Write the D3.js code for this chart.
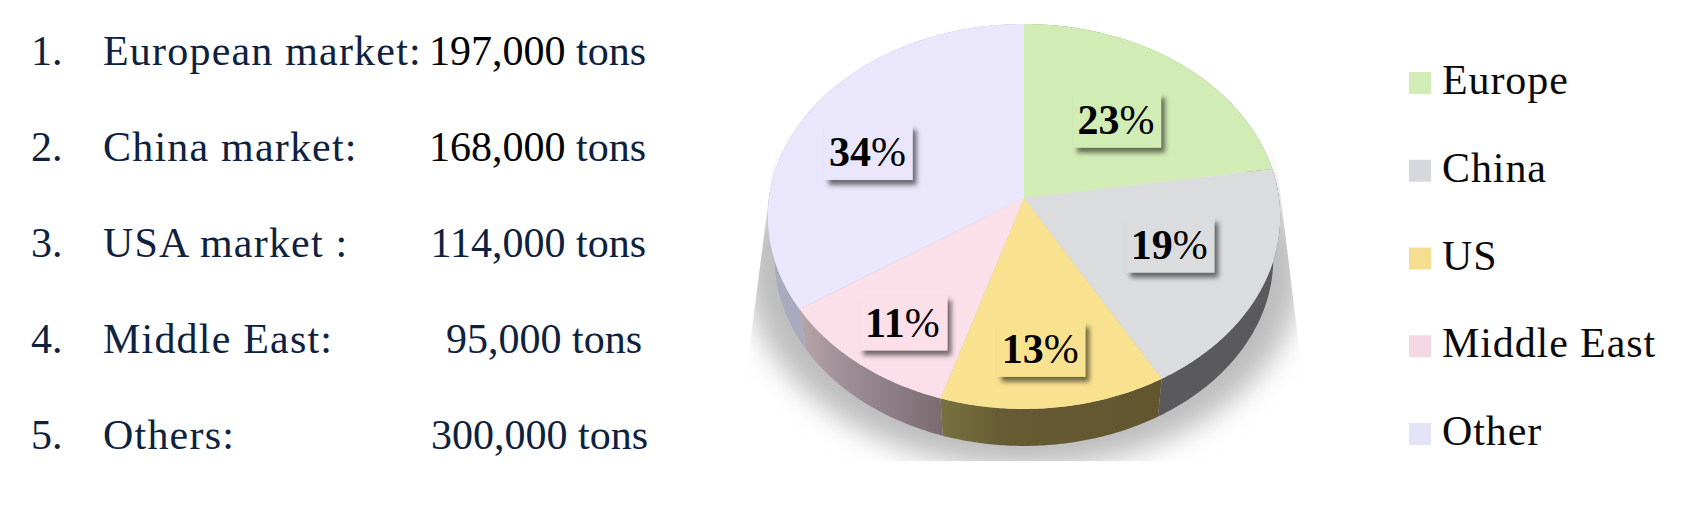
<!DOCTYPE html>
<html>
<head>
<meta charset="utf-8">
<script src="https://cdn.jsdelivr.net/npm/d3@7"></script>
<style>
    body { margin: 0; background: #fff; }
    text { font-family: "Liberation Serif", serif; font-size: 42px; }
</style>
</head>
<body>
<div id="chart"></div>
<script>
// left hand list
const markets = ["European market:", "China market:", "USA market :", "Middle East:", "Others:"];
const tons = [197000, 168000, 114000, 95000, 300000];

// pie, same order as the list
const categories = ["Europe", "China", "US", "Middle East", "Other"];
const topColors = ["#d2ecb6", "#dbdcde", "#f9e28f", "#fbdfe9", "#eae7fc"];
const legendColors = ["#d2ecb7", "#d7d8dc", "#f5de90", "#f6d8e4", "#e4e2f6"];
const wallStart = ["#7f8c6c", "#5a5a5c", "#78723f", "#b8a5ab", "#a9aac0"];
const wallMid = ["#7f8c6c", "#5a5a5c", "#655a33", "#a08f96", "#a9aac0"];
const wallEnd = ["#7f8c6c", "#5a5a5c", "#62562f", "#7b6c72", "#a9aac0"];
// how far out each % box sits, and its turn away from the slice middle (degrees)
const labelRadius = [0.57, 0.61, 0.74, 0.76, 0.67];
const labelTurn = [1.2, -2.5, 1.3, -1.0, -6.8];

const width = 1694, height = 506;
const config = {
    cx: 1024, cy: 198,
    r: 255, b: 190.7, tilt: -0.096,
    wallScale: 0.973, wallY: 240.7,
    boxW: 88, boxH: 55,
};

const svg = d3.select("#chart").append("svg")
    .attr("width", width)
    .attr("height", height)
    .attr("viewBox", [0, 0, width, height]);

const defs = svg.append("defs");

// The disc is seen in perspective, so the centre is not the middle of the ellipse.
function project(angle, radius = 1) {
    const x = radius * Math.sin(angle);
    const y = -radius * Math.cos(angle);
    const w = 1 + config.tilt * y;
    return [config.cx + config.r * x / w, config.cy + config.b * y / w];
}

function projectLow(angle) {
    const [x, y] = project(angle);
    return [
        config.cx + (x - config.cx) * config.wallScale,
        config.wallY + (y - config.cy) * config.wallScale,
    ];
}

const total = d3.sum(tons);
const arcs = d3.pie().sort(null).value(d => d)(tons);

function sweep(d, fn) {
    const steps = Math.ceil((d.endAngle - d.startAngle) / 0.01);
    return d3.range(steps + 1).map(i => fn(d.startAngle + (d.endAngle - d.startAngle) * i / steps));
}

const line = d3.line();

// shadow on the floor
const shadowFill = defs.append("linearGradient")
    .attr("id", "shadowFill")
    .attr("gradientUnits", "userSpaceOnUse")
    .attr("x1", 0).attr("x2", 0).attr("y1", 150).attr("y2", 235);
shadowFill.append("stop").attr("offset", 0).attr("stop-color", "#bdbdbd").attr("stop-opacity", 0);
shadowFill.append("stop").attr("offset", 1).attr("stop-color", "#bdbdbd").attr("stop-opacity", 1);

defs.append("filter")
    .attr("id", "shadowBlur")
    .attr("x", "-20%").attr("y", "-20%").attr("width", "140%").attr("height", "140%")
    .append("feGaussianBlur").attr("stdDeviation", 14);

defs.append("clipPath")
    .attr("id", "shadowClip")
    .append("polygon")
    .attr("points", "775,150 1275,150 1313,461 735,461");

svg.append("g")
    .attr("clip-path", "url(#shadowClip)")
    .append("ellipse")
    .attr("cx", config.cx).attr("cy", 265)
    .attr("rx", 279).attr("ry", 203)
    .attr("fill", "url(#shadowFill)")
    .attr("filter", "url(#shadowBlur)");

// side wall
arcs.forEach((d, i) => {
    const g = defs.append("linearGradient")
        .attr("id", `wall${i}`)
        .attr("gradientUnits", "userSpaceOnUse")
        .attr("y1", 0).attr("y2", 0)
        .attr("x1", project(d.endAngle)[0])
        .attr("x2", project(d.startAngle)[0]);
    g.append("stop").attr("offset", 0).attr("stop-color", wallStart[i]);
    g.append("stop").attr("offset", 0.3).attr("stop-color", wallMid[i]);
    g.append("stop").attr("offset", 1).attr("stop-color", wallEnd[i]);
});

svg.append("g").selectAll("path")
    .data(arcs)
    .join("path")
    .attr("d", d => line(sweep(d, a => project(a)).concat(sweep(d, projectLow).reverse())) + "Z")
    .attr("fill", (_, i) => `url(#wall${i})`);

// top face
svg.append("g").selectAll("path")
    .data(arcs)
    .join("path")
    .attr("d", d => line([[config.cx, config.cy]].concat(sweep(d, a => project(a)))) + "Z")
    .attr("fill", (_, i) => topColors[i]);

// % boxes
const boxShadow = defs.append("filter")
    .attr("id", "boxShadow")
    .attr("x", "-20%").attr("y", "-20%").attr("width", "140%").attr("height", "140%");
boxShadow.append("feDropShadow")
    .attr("dx", 4).attr("dy", 5)
    .attr("stdDeviation", 2.5)
    .attr("flood-color", "#000")
    .attr("flood-opacity", 0.55);

const labels = svg.append("g").selectAll("g")
    .data(arcs)
    .join("g")
    .attr("transform", (d, i) => {
        const mid = (d.startAngle + d.endAngle) / 2 + labelTurn[i] * Math.PI / 180;
        return `translate(${project(mid, labelRadius[i])})`;
    });

labels.append("rect")
    .attr("x", -config.boxW / 2)
    .attr("y", -config.boxH / 2)
    .attr("width", config.boxW)
    .attr("height", config.boxH)
    .attr("fill", (_, i) => topColors[i])
    .attr("filter", "url(#boxShadow)");

const labelText = labels.append("text")
    .attr("text-anchor", "middle")
    .attr("x", -1)
    .attr("y", 14)
    .attr("font-size", 43)
    .attr("fill", "#000");
labelText.append("tspan").attr("font-weight", "bold").text(d => Math.round(d.data / total * 100));
labelText.append("tspan").text("%");

// list on the left
const rowY = d3.scalePoint().domain(d3.range(markets.length)).range([65, 449]);
const rows = svg.append("g").selectAll("g")
    .data(markets)
    .join("g")
    .attr("transform", (_, i) => `translate(0,${rowY(i)})`)
    .attr("fill", "#0e2240");

rows.append("text").attr("x", 31).text((_, i) => `${i + 1}.`);
rows.append("text")
    .attr("x", 103)
    .attr("font-size", 43)
    .attr("letter-spacing", 1.2)
    .text(d => d);

const amounts = rows.append("text")
    .attr("x", (_, i) => i === 3 ? 642 : i === 4 ? 648 : 646)
    .attr("text-anchor", "end");
amounts.append("tspan")
    .attr("fill", (_, i) => i < 2 ? "#000" : null)
    .text((_, i) => d3.format(",")(tons[i]));
amounts.append("tspan").text(" tons");

// legend
const legendY = d3.scalePoint().domain(categories).range([94, 445]);
const legend = svg.append("g").selectAll("g")
    .data(categories)
    .join("g")
    .attr("transform", d => `translate(0,${legendY(d)})`);

legend.append("rect")
    .attr("x", 1409)
    .attr("y", -22)
    .attr("width", 22)
    .attr("height", 22)
    .attr("fill", (_, i) => legendColors[i]);

legend.append("text")
    .attr("x", 1442)
    .attr("font-size", 43)
    .attr("letter-spacing", 0.9)
    .attr("fill", "#0a0a0a")
    .text(d => d);
</script>
</body>
</html>
